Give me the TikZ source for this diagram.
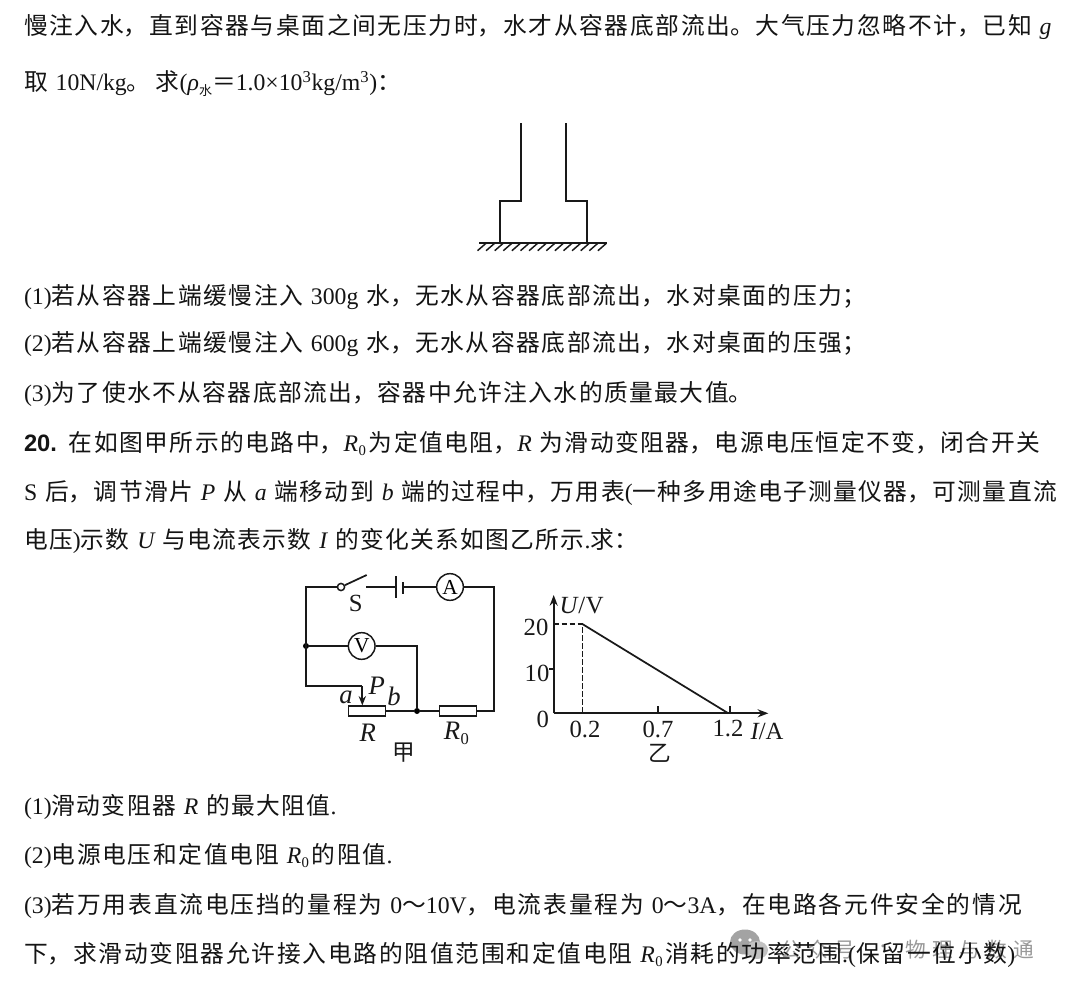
\documentclass[tikz,border=0pt]{standalone}
\usepackage{fontspec}
\setmainfont{Noto Sans CJK SC}
\newfontfamily\latf{Liberation Serif}
\newfontfamily\boldf{Liberation Sans}
\usetikzlibrary{arrows.meta}
\newcommand{\zhon}{\XeTeXlinebreaklocale "zh"\relax}
\newcommand{\zhoff}{\XeTeXlinebreaklocale ""\relax}
\newcommand{\ltn}[1]{\zhoff{\latf #1}\zhon}
\newcommand{\itn}[1]{\zhoff{\latf\itshape #1}\zhon}
\newcommand{\Rz}{\zhoff{\latf\itshape R\kern0.02em\raisebox{-0.18em}{\upshape\scalebox{0.62}{0}}\kern0.12em}\zhon}
\zhon
\XeTeXlinebreakskip=0pt plus 8pt minus 0.8pt
\newcommand{\tl}[3]{\node[txt,text width={0.75pt*(#2-24)}] (t#1) at (24,#1) {\parfillskip=0pt\parindent=0pt\tolerance=9999\hbadness=10000\hfuzz=5pt #3\par};}
\begin{document}
\begin{tikzpicture}[x=0.75pt,y=-0.75pt,
  txt/.style={anchor=base west,inner sep=0pt,outer sep=0pt,font=\fontsize{17.8pt}{20pt}\selectfont,text=black!92},
  wire/.style={line width=1.3pt,black!90},
  lbl/.style={inner sep=0pt,font=\latf\fontsize{18.5pt}{20pt}\selectfont,text=black!90},
  ilbl/.style={inner sep=0pt,font=\latf\itshape\fontsize{20pt}{22pt}\selectfont,text=black!90},
  cjklbl/.style={inner sep=0pt,font=\fontsize{17pt}{18pt}\selectfont,text=black!90},
  meter/.style={draw=black!90,line width=1.1pt,circle,fill=white,inner sep=0pt,minimum size=20pt,font=\latf\fontsize{16pt}{16pt}\selectfont},
  resistor/.style={draw=black!90,line width=1.1pt,rectangle,fill=white,inner sep=0pt,minimum width=27.5pt,minimum height=7.3pt},
  dot/.style={circle,fill=black,inner sep=0pt,minimum size=4.5pt},
  wm/.style={txt,text=black!40,font=\fontsize{15.5pt}{18pt}\selectfont}]
\useasboundingbox[fill=white] (0,0) rectangle (1080,994);
% watermark
\fill[black!36] (745,942) ellipse (15 and 12.5);
\fill[black!24] (757,950) ellipse (11 and 9);
\fill[white] (740,940) circle (1.8) (750,940) circle (1.8);
\node[wm,text width=75pt] (wm1) at (780,957) {\parfillskip=0pt\parindent=0pt 公众号\par};
\node[lbl,text=black!40] (wm2) at (883,950) {·};
\node[wm,text width=116pt] (wm3) at (905,957) {\parfillskip=0pt\parindent=0pt 物理与数通\par};
% text lines
\tl{35}{1059}{慢注入水，直到容器与桌面之间无压力时，水才从容器底部流出。大气压力忽略不计，已知 \itn{g}}
\tl{91}{425}{取 \ltn{10N/kg}。求\ltn{(}\itn{ρ}\raisebox{-0.2em}{\scalebox{0.55}{水}}＝\ltn{1.0×10\textsuperscript{3}kg/m\textsuperscript{3})}：}
\tl{305}{873}{\ltn{(1)}若从容器上端缓慢注入 \ltn{300g} 水，无水从容器底部流出，水对桌面的压力；}
\tl{352}{873}{\ltn{(2)}若从容器上端缓慢注入 \ltn{600g} 水，无水从容器底部流出，水对桌面的压强；}
\tl{402}{759}{\ltn{(3)}为了使水不从容器底部流出，容器中允许注入水的质量最大值。}
\tl{451}{1047}{{\boldf\bfseries 20.} 在如图甲所示的电路中，\Rz 为定值电阻，\itn{R} 为滑动变阻器，电源电压恒定不变，闭合开关}
\tl{500}{1063}{\ltn{S} 后，调节滑片 \itn{P} 从 \itn{a} 端移动到 \itn{b} 端的过程中，万用表\ltn{(}一种多用途电子测量仪器，可测量直流}
\tl{548}{644}{电压\ltn{)}示数 \itn{U} 与电流表示数 \itn{I} 的变化关系如图乙所示\ltn{.}求：}
\tl{814}{343}{\ltn{(1)}滑动变阻器 \itn{R} 的最大阻值\ltn{.}}
\tl{863}{400}{\ltn{(2)}电源电压和定值电阻 \Rz 的阻值\ltn{.}}
\tl{913}{1030}{\ltn{(3)}若万用表直流电压挡的量程为 \ltn{0}～\ltn{10V}，电流表量程为 \ltn{0}～\ltn{3A}，在电路各元件安全的情况}
\tl{962}{1023}{下，求滑动变阻器允许接入电路的阻值范围和定值电阻 \Rz 消耗的功率范围\ltn{.(}保留一位小数\ltn{)}}
% container
\draw[wire,line join=miter] (520.7,123.3) -- (520.7,200.7) -- (500,200.7) -- (500,243.3);
\draw[wire,line join=miter] (566,123.3) -- (566,200.7) -- (587.3,200.7) -- (587.3,243.3);
\draw[wire] (479.3,243.3) -- (606.7,243.3);
\foreach \i in {0,...,14} \draw[line width=1.1pt,black!90] ({486+8.6*\i},243.3) -- ({477.5+8.6*\i},250.7);
% circuit
\coordinate (tl) at (306,587);
\coordinate (tr) at (494,587);
\node[dot] (j1) at (306,646) {};
\node[dot] (j2) at (417,711) {};
\node[draw=black!90,line width=1.1pt,circle,fill=white,inner sep=0pt,minimum size=5.4pt] (sw) at (341,587) {};
\coordinate (blade) at (366.7,575);
\coordinate (swr) at (366,587);
\coordinate (bl) at (396,587);
\coordinate (bs) at (403,587);
\node[meter] (A) at (450,587) {A};
\node[meter] (V) at (361.7,646) {V};
\node[resistor] (R) at (367,711) {};
\node[resistor] (R0) at (458,711) {};
\coordinate (pc) at (306,686);
\coordinate (pk) at (362.3,686);
\coordinate (br) at (494,711);
\draw[wire] (sw) -- (tl) -- (pc) -- (pk);
\draw[wire] (sw) -- (blade);
\draw[wire] (swr) -- (bl);
\draw[wire] (396,576) -- (396,598);
\draw[wire] (403,582) -- (403,594);
\draw[wire] (bs) -- (A);
\draw[wire] (A) -- (tr) -- (br) -- (R0);
\draw[wire] (j1) -- (V);
\draw[wire] (V) -| (j2);
\draw[wire] (R) -- (j2) -- (R0);
\draw[wire,-{Stealth[length=7pt,width=5.5pt]}] (pk) -- (R.north -| pk);
\node[lbl] (lS) at (355.7,603) {S};
\node[ilbl] (lP) at (376.7,686) {P};
\node[ilbl] (la) at (346,697) {a};
\node[ilbl] (lb) at (394,696) {b};
\node[ilbl] (lR) at (367.7,733) {R};
\node[lbl,font=\latf\fontsize{20pt}{22pt}\selectfont] (lR0) at (458,733) {\Rz};
\node[cjklbl] (lj) at (404,753) {甲};
% graph
\coordinate (O) at (553.7,713.3);
\coordinate (yt) at (553.7,595);
\coordinate (xt) at (768.3,713.3);
\coordinate (p1) at (582.3,624);
\coordinate (p2) at (728.3,713.3);
\draw[wire,-{Stealth[length=8pt,width=6pt]}] (O) -- (yt);
\draw[wire,-{Stealth[length=8pt,width=6pt]}] (O) -- (xt);
\draw[wire] (p1) -- (p2);
\draw[wire,line width=1.1pt,dash pattern=on 4pt off 2pt] (553.7,624) -- (p1) -- (582.3,713.3);
\draw[wire] (553.7,668.7) -- (549,668.7);
\draw[wire] (658.3,713.3) -- (658.3,706);
\draw[wire] (730,713.3) -- (730,706);
\node[lbl] (lU) at (581.7,606) {\itshape U\kern0.03em\upshape/\kern0.03emV};
\node[lbl] (l20) at (536,627) {20};
\node[lbl] (l10) at (537,673) {10};
\node[lbl] (l0) at (542.7,719) {0};
\node[lbl] (l02) at (585,729) {0.2};
\node[lbl] (l07) at (658,729) {0.7};
\node[lbl] (l12) at (728,729) {1.2};
\node[lbl] (lI) at (767,731) {\itshape I\upshape/A};
\node[cjklbl] (ly) at (660,753) {乙};
\end{tikzpicture}
\end{document}
